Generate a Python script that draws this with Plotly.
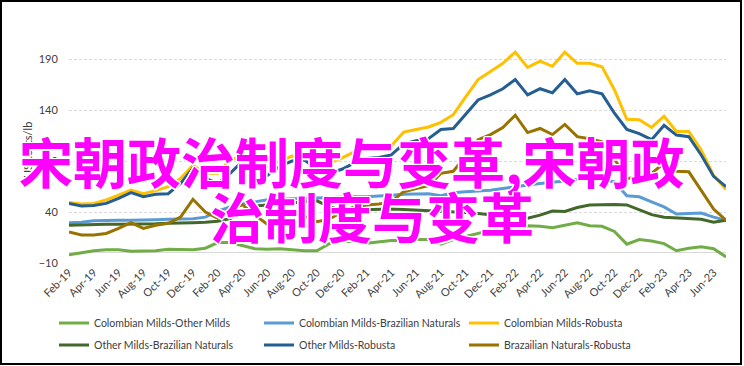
import plotly.graph_objects as go

months = ["Feb-19","Mar-19","Apr-19","May-19","Jun-19","Jul-19","Aug-19","Sep-19","Oct-19","Nov-19","Dec-19",
          "Jan-20","Feb-20","Mar-20","Apr-20","May-20","Jun-20","Jul-20","Aug-20","Sep-20","Oct-20","Nov-20","Dec-20",
          "Jan-21","Feb-21","Mar-21","Apr-21","May-21","Jun-21","Jul-21","Aug-21","Sep-21","Oct-21","Nov-21","Dec-21",
          "Jan-22","Feb-22","Mar-22","Apr-22","May-22","Jun-22","Jul-22","Aug-22","Sep-22","Oct-22","Nov-22","Dec-22",
          "Jan-23","Feb-23","Mar-23","Apr-23","May-23","Jun-23","Jul-23"]
tick_labels = months[::2]
y_ticks = [-10, 40, 90, 140, 190]

colombian_other = [-2,0,2,3,3,1.5,1.5,2,3.5,3.5,3,4.5,10,10,7,4,3.5,4,3,2,2,9,11,11,9.5,11,12,12,13,13,8.5,13,16,19,22,23,25.5,26.5,26,24.5,27,29.5,26.5,26,21,8.5,13,11.5,9,2,4.5,6,4,-4]
colombian_brazil = [29.5,30,31.5,32,32,32,32,32.5,33,33,33.5,35,41,45,48,50,52,52.5,53,53.5,54,54,54.5,55,55,55.5,56.5,57.5,58,58,56,59,60,60.5,61.5,63,65,66.5,68,69,70.5,72,73,72,69.5,56,55,50,45,38,38.5,39,35,32]
colombian_robusta = [49.5,48,48.5,52,56.5,61.5,58,61,65,73,86,78,78,91,95,88,84,90,95,94,86,88,93,99,102.5,102.5,105,118.5,121,123.5,128,135.5,153,170,178,186,197,182,188,183,197,186,186,182.5,160,131,130.5,123,134,119,119,101,76,62]
other_brazil = [27,27.5,27.5,28,28,28,28.5,28.5,29,29,29.5,30,31,33.5,40,46,47,48,48.5,50,51,45,42,42,42.5,43,43,42.5,42,41,40.5,40.5,39.5,38.5,37,36,35,34,37,41,40.5,44.5,47,47.5,47.5,47,42,37.5,35,34.5,34,33,30,32]
other_robusta = [48.5,46,46.5,48.5,53.5,59,55,57.5,58,68,83,73,68,78,90,83,76,85,90,91,82,78,82,88,92.5,93.5,96,107,110,112,121,122,136,150,155,161,170,155,161,157,170,156,159,156,137,121,117,111,125,115.5,114,96,75,65]
brazil_robusta = [20.5,17.5,17.5,19,24,29.5,24,27,29,35,52.5,40,34,43.5,47,37,28,32,37,36,30.5,33,40,45,47,48,50,60,63,66,78,80,95,111,116,123,135,118,122,116,126,114,112,109,92,73,74,78,88,80,79.5,61,43,32]

series = [
    ("Colombian Milds-Other Milds", colombian_other, "#70AD47", "legend"),
    ("Colombian Milds-Brazilian Naturals", colombian_brazil, "#5B9BD5", "legend"),
    ("Colombian Milds-Robusta", colombian_robusta, "#FFC000", "legend"),
    ("Other Milds-Brazilian Naturals", other_brazil, "#43682B", "legend2"),
    ("Other Milds-Robusta", other_robusta, "#255E91", "legend2"),
    ("Brazailian Naturals-Robusta", brazil_robusta, "#997300", "legend2"),
]

W, H = 744, 366
ML, MR, MT, MB = 69, 18, 49, 103
PW, PH = W - ML - MR, H - MT - MB

def px_x(p):
    return (p - ML) / PW

def px_y(p):
    return (H - MB - p) / PH

FONT = "Lato"
TXT = "#404040"

fig = go.Figure()
for name, vals, color, lg in series:
    fig.add_trace(go.Scatter(x=months, y=vals, name=name, mode="lines",
                             line=dict(color=color, width=3), legend=lg,
                             hoverinfo="skip"))

legend_common = dict(orientation="h", xanchor="left", yanchor="middle", entrywidth=160,
                     font=dict(size=10.5, color=TXT, family=FONT), itemwidth=30,
                     bgcolor="rgba(0,0,0,0)")

fig.update_layout(
    width=W, height=H,
    margin=dict(l=ML, r=MR, t=MT, b=MB, autoexpand=False),
    paper_bgcolor="white", plot_bgcolor="white",
    font=dict(family=FONT, size=11, color=TXT),
    xaxis=dict(type="category", range=[0, len(months) - 1], tickvals=tick_labels,
               ticktext=tick_labels, tickangle=-45, showgrid=False, showline=False,
               zeroline=False, ticks="", tickfont=dict(size=11, color=TXT)),
    yaxis=dict(range=[-10, 200], tickvals=y_ticks, showgrid=True, gridcolor="#D9D9D9",
               griddash="3px,2px", gridwidth=1, zeroline=True, zerolinecolor="#D9D9D9",
               zerolinewidth=1, showline=False, ticks="outside", ticklen=8,
               tickcolor="rgba(0,0,0,0)", tickfont=dict(size=11, color=TXT)),
    legend=dict(x=px_x(54), y=px_y(323), **legend_common),
    legend2=dict(x=px_x(54), y=px_y(345), **legend_common),
    showlegend=True,
    modebar=dict(bgcolor="rgba(0,0,0,0)", color="rgba(0,0,0,0)", activecolor="rgba(0,0,0,0)"),
)

fig.add_annotation(text="US cents/lb", textangle=-90, x=px_x(27), y=px_y(150), xref="paper", yref="paper",
                   xanchor="center", yanchor="middle",
                   showarrow=False, font=dict(size=11, color=TXT, family=FONT))

fig.add_shape(type="rect", xref="paper", yref="paper",
              x0=px_x(1), x1=px_x(741), y0=px_y(364), y1=px_y(1),
              line=dict(color="black", width=2), fillcolor="rgba(0,0,0,0)", layer="above")

shadow = "1.5px 0 0 #fff, -1.5px 0 0 #fff, 0 1.5px 0 #fff, 0 -1.5px 0 #fff, 1px 1px 0 #fff, -1px -1px 0 #fff, 1px -1px 0 #fff, -1px 1px 0 #fff"
overlay_font = dict(family="Noto Sans CJK SC", size=54, color="#FF00FF", shadow=shadow)
fig.add_annotation(text="<b>宋朝政治制度与变革,宋朝政</b>", x=px_x(352), y=px_y(160), xref="paper", yref="paper",
                   xanchor="center", yanchor="middle", showarrow=False, font=overlay_font)
fig.add_annotation(text="<b>治制度与变革</b>", x=px_x(372), y=px_y(215), xref="paper", yref="paper",
                   xanchor="center", yanchor="middle", showarrow=False, font=overlay_font)

fig.write_html("out.html", config={"displayModeBar": False},
               post_script="document.body.style.margin='0px';")
